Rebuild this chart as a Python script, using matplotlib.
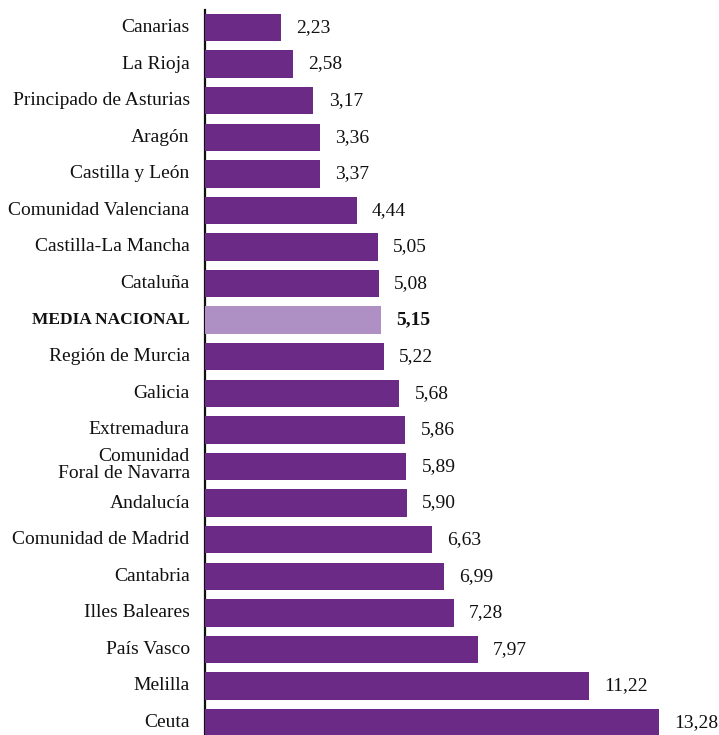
import matplotlib
matplotlib.use("Agg")
import matplotlib.pyplot as plt

regions = ["Canarias", "La Rioja", "Principado de Asturias", "Aragón", "Castilla y León",
           "Comunidad Valenciana", "Castilla-La Mancha", "Cataluña", "MEDIA NACIONAL",
           "Región de Murcia", "Galicia", "Extremadura", "Comunidad\nForal de Navarra",
           "Andalucía", "Comunidad de Madrid", "Cantabria", "Illes Baleares", "País Vasco",
           "Melilla", "Ceuta"]
values = [2.23, 2.58, 3.17, 3.36, 3.37, 4.44, 5.05, 5.08, 5.15, 5.22, 5.68, 5.86, 5.89,
          5.90, 6.63, 6.99, 7.28, 7.97, 11.22, 13.28]
highlight = "MEDIA NACIONAL"

dark = "#6b2a86"
light = "#ae90c4"

plt.rcParams['font.family'] = ['Liberation Serif', 'DejaVu Serif']

fig = plt.figure(figsize=(7.19, 7.35), dpi=100)
ax = fig.add_axes([205/719, 0, 1 - 205/719, 1])

ypos = list(range(len(regions)))
colors = [light if r == highlight else dark for r in regions]
ax.barh(ypos, values, height=0.75, color=colors, zorder=2)

ax.set_xlim(0, 15.03)
ax.set_ylim(19.34, -0.752)

for y, v, r in zip(ypos, values, regions):
    bold = (r == highlight)
    ax.annotate(f"{v:.2f}".replace(".", ","), xy=(v, y), xytext=(11, 0),
                textcoords="offset points", va="center", ha="left",
                fontsize=14, fontweight="bold" if bold else "normal", color="#111111")
    ax.annotate(r, xy=(0, y), xytext=(-11, 1 if "\n" in r else 0), textcoords="offset points",
                va="center", ha="right", fontsize=12.5 if bold else 14, linespacing=0.95,
                fontweight="bold" if bold else "normal", color="#111111")

for s in ["top", "right", "bottom"]:
    ax.spines[s].set_visible(False)
ax.spines["left"].set_bounds(-0.48, 19.34)
ax.spines["left"].set_linewidth(1.6)
ax.spines["left"].set_color("#111111")
ax.spines["left"].set_zorder(1)
ax.set_xticks([])
ax.set_yticks([])

fig.savefig("out.png", dpi=100)
